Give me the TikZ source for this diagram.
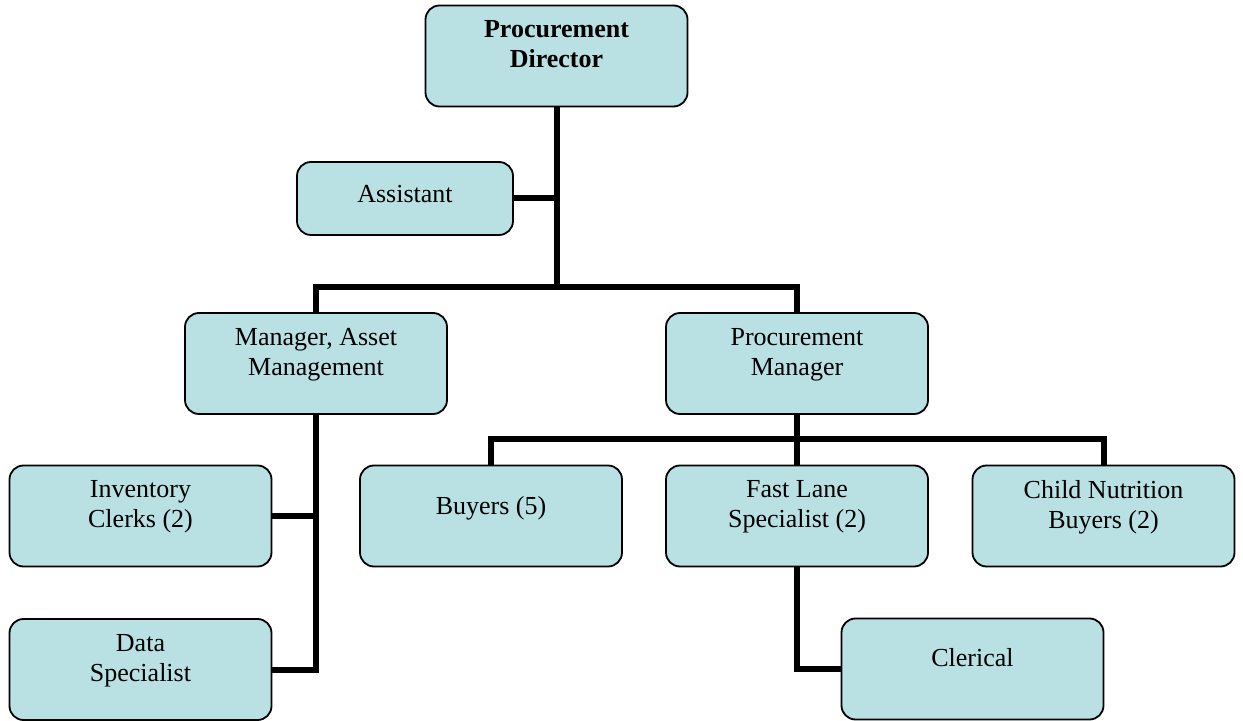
\documentclass[tikz,border=0pt]{standalone}
\usepackage{fontspec}
\setmainfont{Liberation Serif}
\definecolor{boxfill}{RGB}{185,224,227}
\tikzset{
  box/.style={draw=black, line width=0.9pt, fill=boxfill, rounded corners=7pt,
    minimum width=131pt, minimum height=50.5pt, align=center,
    font=\fontsize{13}{15}\selectfont, inner sep=0pt},
  oneline/.style={text height=8.5pt, text depth=9.5pt},
  link/.style={line width=3pt}
}
\begin{document}
\begin{tikzpicture}[x=0.5pt,y=-0.5pt]
\useasboundingbox (0,0) rectangle (1243,721);
\node[box] (dir) at (556.5,56) {\textbf{Procurement}\\\textbf{Director}\\[-3pt]~};
\node[box, oneline, text depth=4pt, minimum width=108pt, minimum height=36.5pt] (asst) at (405,198.5) {Assistant};
\node[box] (mgrasset) at (316,363.5) {Manager, Asset\\Management\\[-3pt]~};
\node[box] (procmgr) at (797,363.5) {Procurement\\Manager\\[-3pt]~};
\node[box] (inventory) at (140.5,516) {Inventory\\Clerks (2)\\[-3pt]~};
\node[box, oneline] (buyers) at (491,516) {Buyers (5)};
\node[box] (fastlane) at (797,516) {Fast Lane\\Specialist (2)\\[-3pt]~};
\node[box] (child) at (1103.5,516) {Child Nutrition\\Buyers (2)\\[-3pt]~};
\node[box] (data) at (140.5,669.5) {Data\\Specialist\\[-3pt]~};
\node[box, oneline, text depth=10.5pt] (clerical) at (972.5,669) {Clerical};
\coordinate (topbus) at (556.5,287);
\coordinate (midbus) at (797,439);
\draw[link] (dir.south) -- (topbus);
\draw[link] (asst.east) -- (asst.east -| dir.south);
\draw[link] (mgrasset.north) |- (topbus) -| (procmgr.north);
\draw[link] (procmgr.south) -- (midbus);
\draw[link] (buyers.north) |- (midbus) -| (child.north);
\draw[link] (midbus) -- (fastlane.north);
\draw[link] (mgrasset.south) |- (data.east);
\draw[link] (inventory.east) -- (inventory.east -| mgrasset.south);
\draw[link] (fastlane.south) |- (clerical.west);
\end{tikzpicture}
\end{document}
